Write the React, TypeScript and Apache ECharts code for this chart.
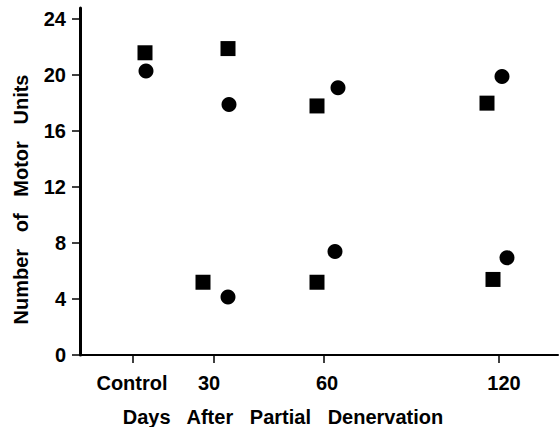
import React, { useEffect, useRef } from "react";
import * as echarts from "echarts";

// x positions are plot positions along the (non-linear) days axis
const categoryLabels = ["Control", "30", "60", "120"];
const categoryLabelPos = [5.2, 12.9, 24.7, 42.4];
const categoryTickPos = [5.3, 13.4, 24.4, 41.9];

const yTicks = [0, 4, 8, 12, 16, 20, 24];

const squareX = [6.5, 14.8, 12.3, 23.7, 23.7, 40.7, 41.3];
const squareY = [21.6, 21.9, 5.2, 17.8, 5.2, 18.0, 5.4];
const circleX = [6.6, 14.9, 14.8, 25.8, 25.5, 42.2, 42.7];
const circleY = [20.3, 17.9, 4.15, 19.1, 7.4, 19.9, 6.95];

const FONT = "'Liberation Sans', Arial, Helvetica, sans-serif";

export default function App() {
  const ref = useRef<HTMLDivElement>(null);
  useEffect(() => {
    if (!ref.current) return;
    const chart = echarts.init(ref.current, null, { renderer: "svg" });
    chart.setOption({
      animation: false,
      backgroundColor: "#ffffff",
      grid: { left: 80, right: 2, top: 8, bottom: 72, containLabel: false, outerBoundsMode: "none" },
      xAxis: {
        type: "value",
        min: 0,
        max: 47.8,
        name: "Days   After   Partial   Denervation",
        nameLocation: "middle",
        nameGap: 52,
        nameTextStyle: {
          fontFamily: FONT,
          fontWeight: "bold",
          fontSize: 20,
          color: "#000",
          padding: [0, 72, 0, 0],
        },
        axisLine: { show: true, onZero: false, lineStyle: { color: "#000", width: 2 } },
        axisTick: {
          show: true,
          length: 8,
          customValues: categoryTickPos,
          lineStyle: { color: "#000", width: 1.5 },
        },
        axisLabel: {
          show: true,
          customValues: categoryLabelPos,
          formatter: (v: number) => {
            const i = categoryLabelPos.findIndex((p) => Math.abs(p - v) < 1e-6);
            return i >= 0 ? categoryLabels[i] : "";
          },
          margin: 18,
          fontFamily: FONT,
          fontWeight: "bold",
          fontSize: 20,
          color: "#000",
        },
        splitLine: { show: false },
      },
      yAxis: {
        type: "value",
        min: 0,
        max: 24.8,
        name: "Number   of   Motor   Units",
        nameLocation: "middle",
        nameGap: 49,
        nameRotate: 90,
        nameTextStyle: {
          fontFamily: FONT,
          fontWeight: "bold",
          fontSize: 20,
          color: "#000",
          padding: [0, 36, 0, 0],
        },
        axisLine: { show: true, onZero: false, lineStyle: { color: "#000", width: 3 } },
        axisTick: {
          show: true,
          length: 8,
          customValues: yTicks,
          lineStyle: { color: "#000", width: 1.5 },
        },
        axisLabel: {
          show: true,
          customValues: yTicks,
          margin: 14,
          fontFamily: FONT,
          fontWeight: "bold",
          fontSize: 20,
          color: "#000",
        },
        splitLine: { show: false },
      },
      series: [
        {
          type: "scatter",
          symbol: "rect",
          symbolSize: 15,
          itemStyle: { color: "#000", opacity: 1 },
          data: squareX.map((x, i) => [x, squareY[i]]),
        },
        {
          type: "scatter",
          symbol: "circle",
          symbolSize: 15,
          itemStyle: { color: "#000", opacity: 1 },
          data: circleX.map((x, i) => [x, circleY[i]]),
        },
      ],
    });
    return () => chart.dispose();
  }, []);
  return <div ref={ref} style={{ width: 560, height: 427, position: "absolute", left: 0, top: 0 }} />;
}
